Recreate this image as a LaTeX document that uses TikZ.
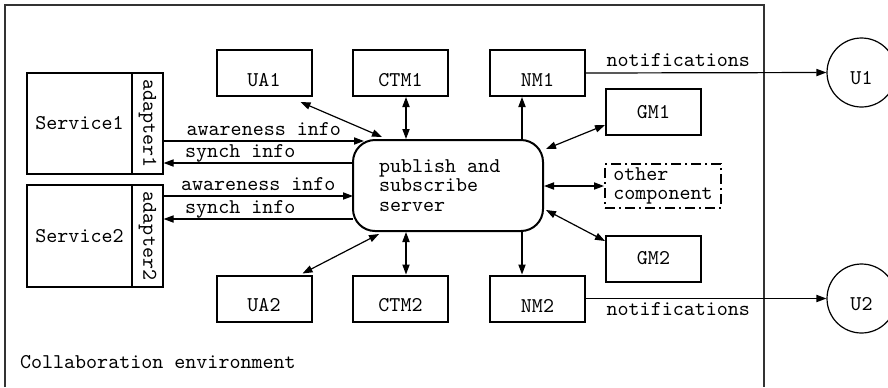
\documentclass[tikz,border=0pt]{standalone}
\usepackage{graphicx}
\usetikzlibrary{arrows.meta}

\tikzset{
  box/.style={draw, line width=1pt, minimum width=47.5pt, minimum height=23pt, inner sep=0pt},
  thinbox/.style={draw, line width=0.6pt, inner sep=0pt},
  lowtext/.style={label={[yshift=-3.5pt]center:#1}},
  user/.style={draw, circle, line width=0.6pt, minimum size=34.5pt, inner sep=0pt, label={[yshift=-2.75pt]center:#1}},
  flow/.style={line width=0.6pt},
  tag/.style={inner sep=0pt, anchor=base, yshift=3pt},
  tagbelow/.style={inner sep=0pt, anchor=base, yshift=-8.25pt}
}

\begin{document}
\begin{tikzpicture}[x=0.5pt, y=-0.5pt, >={Triangle[length=5pt,width=3.6pt]},
  font=\ttfamily\fontsize{10.5pt}{9.75pt}\selectfont]

\useasboundingbox (0,0) rectangle (888,387);

% environment frame:
\draw[line width=0.8pt, black!80] (5,387) |- (764,5) -- (764,387);
\node[anchor=west] (env) at (13,362) {Collaboration environment};

% services and adapters:
\node[thinbox, minimum width=52.5pt, minimum height=50.5pt] (svc1) at (79.5,123.5) {Service1};
\node[thinbox, minimum width=15.5pt, minimum height=50.5pt] (ad1) at (147.5,123.5) {\rotatebox{-90}{adapter1}};

\node[thinbox, minimum width=52.5pt, minimum height=51pt] (svc2) at (79.5,236) {Service2};
\node[thinbox, minimum width=15.5pt, minimum height=51pt] (ad2) at (147.5,236) {\rotatebox{-90}{adapter2}};

% server:
\node[draw, line width=1pt, rounded corners=11pt, minimum width=95pt, minimum height=45.5pt,
  text width=69pt, align=flush left, inner sep=0pt] (server) at (448,185.5) {publish and\\subscribe\\server};

% top row:
\node[box, lowtext=UA1] (ua1) at (264,73) {};
\node[box, lowtext=CTM1] (ctm1) at (400.5,73) {};
\node[box, lowtext=NM1] (nm1) at (537.5,73) {};
\node[box] (gm1) at (653.5,112) {GM1};

% bottom row:
\node[box, lowtext=UA2] (ua2) at (264,298.5) {};
\node[box, lowtext=CTM2] (ctm2) at (400.5,298.5) {};
\node[box, lowtext=NM2] (nm2) at (537.5,298.5) {};
\node[box] (gm2) at (653.5,258.5) {GM2};

\node[draw, line width=1pt, dash pattern=on 5pt off 2pt on 1pt off 2pt, minimum width=58pt,
  minimum height=22pt, align=left, inner sep=0pt] (other) at (663,186) {other\\component};

% users:
\node[user=U1] (u1) at (861.5,72.5) {};
\node[user=U2] (u2) at (861.5,298.5) {};

% service links:
\coordinate (aw1) at (364,141);
\coordinate (sy1) at (353,163);
\coordinate (aw2) at (353,196);
\coordinate (sy2) at (353,219);

\draw[flow,->] (ad1.east |- aw1) -- (aw1) node[tag, midway] {awareness info};
\draw[flow,<-] (ad1.east |- sy1) -- (sy1) node[tag, pos=0.405] {synch info};
\draw[flow,->] (ad2.east |- aw2) -- (aw2) node[tag, midway] {awareness info};
\draw[flow,<-] (ad2.east |- sy2) -- (sy2) node[tag, pos=0.405] {synch info};

% component links:
\draw[flow,<->] ([xshift=-6pt,yshift=-2.5pt]ua1.south east) -- ([xshift=15pt,yshift=1pt]server.north west);
\draw[flow,<->] ([xshift=2.75pt]ctm1.south) -- ([xshift=2.75pt]ctm1.south |- server.north);
\draw[flow,->] ([xshift=-7.75pt]nm1.south |- server.north) -- ([xshift=-7.75pt]nm1.south);
\draw[flow,<->] ([xshift=1pt,yshift=-5pt]server.north east) -- ([yshift=-6.5pt]gm1.west);
\draw[flow,<->] (server.east |- other.west) -- (other.west);
\draw[flow,<->] ([xshift=1pt,yshift=11pt]server.south east) -- ([yshift=8.75pt]gm2.west);
\draw[flow,->] ([xshift=-7.75pt]nm2.north |- server.south) -- ([xshift=-7.75pt]nm2.north);
\draw[flow,<->] ([xshift=2.75pt]ctm2.north |- server.south) -- ([xshift=2.75pt]ctm2.north);
\draw[flow,<->] ([xshift=13.5pt,yshift=-1pt]server.south west) -- ([xshift=-5pt,yshift=0.5pt]ua2.north east);

% notifications:
\draw[flow,->] (nm1.east) -- (u1.west) node[tag, pos=0.384] {notifications};
\draw[flow,->] (nm2.east) -- (u2.west) node[tagbelow, pos=0.384] {notifications};

\end{tikzpicture}
\end{document}
